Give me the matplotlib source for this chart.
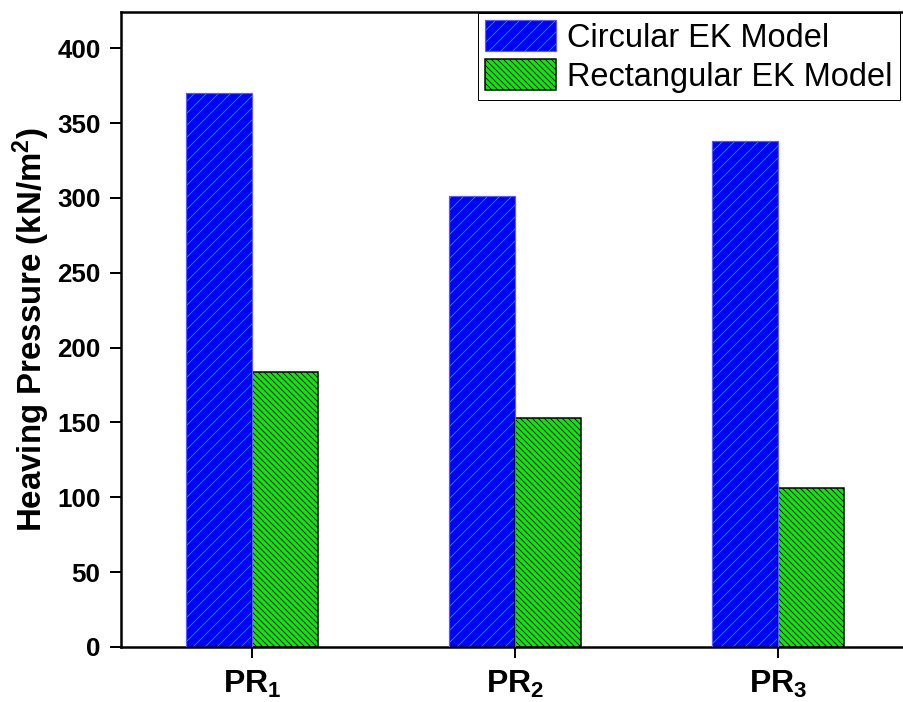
import matplotlib
matplotlib.use("Agg")
import matplotlib.pyplot as plt
import numpy as np
from matplotlib.patches import Patch
from matplotlib.legend_handler import HandlerTuple

plt.rcParams['font.family'] = ['Liberation Sans', 'DejaVu Sans']
plt.rcParams['mathtext.fontset'] = 'custom'
plt.rcParams['mathtext.rm'] = 'Liberation Sans'
plt.rcParams['mathtext.bf'] = 'Liberation Sans:bold'
plt.rcParams['mathtext.it'] = 'Liberation Sans:italic'
plt.rcParams['hatch.linewidth'] = 0.8

categories = [r'$\mathbf{PR}_\mathbf{1}$', r'$\mathbf{PR}_\mathbf{2}$', r'$\mathbf{PR}_\mathbf{3}$']
circular = [370, 301, 338]
rectangular = [184, 153, 106]
series_names = ['Circular EK Model', 'Rectangular EK Model']
yticks = [0, 50, 100, 150, 200, 250, 300, 350, 400]

DPI = 72
fig = plt.figure(figsize=(903 / DPI, 702 / DPI), dpi=DPI)
ax = fig.add_axes([120.5 / 903, 55 / 702, 789 / 903, 635.3 / 702])

x = np.arange(len(categories))
w = 0.25

blue = '#0000FF'
blue_hatch = '#00D000'
blue_edge = '#5A5AFF'
green = '#00F000'
hatch_c = '//'
hatch_r = '\\\\\\\\'

# Circular: blue fill with green hatching, thin blue outline
ax.bar(x - w / 2, circular, w, color=blue, edgecolor=blue_hatch, hatch=hatch_c, linewidth=0, zorder=2)
ax.bar(x - w / 2, circular, w, fill=False, edgecolor=blue_edge, linewidth=1.2, zorder=3)
# Rectangular: green fill with dense black hatching, black outline
ax.bar(x + w / 2, rectangular, w, color=green, edgecolor='black', hatch=hatch_r, linewidth=1.5, zorder=2)

ax.set_xlim(-0.5, 2.5)
ax.set_ylim(0, 424.4)
ax.set_xticks(x)
ax.set_xticklabels(categories, fontsize=32)
ax.set_yticks(yticks)
ax.set_yticklabels([str(t) for t in yticks], fontsize=26, fontweight='bold')
ax.tick_params(axis='both', direction='out', length=11, width=2)
ax.tick_params(axis='y', pad=9)
ax.tick_params(axis='x', pad=11)

for side in ['left', 'bottom', 'top', 'right']:
    ax.spines[side].set_linewidth(2.5)

ax.set_ylabel(r'Heaving Pressure (kN/m$\mathbf{^2}$)', fontsize=33, fontweight='bold', labelpad=5)

h1 = (Patch(facecolor=blue, edgecolor=blue_hatch, hatch=hatch_c, linewidth=0),
      Patch(fill=False, edgecolor=blue_edge, linewidth=1.2))
h2 = Patch(facecolor=green, edgecolor='black', hatch=hatch_r, linewidth=1.5)
leg = fig.legend([h1, h2], series_names, loc='upper right',
                 bbox_to_anchor=(900 / 903, 1 - 13 / 702),
                 handler_map={tuple: HandlerTuple(ndivide=1, pad=0)},
                 fontsize=32.5, frameon=True, fancybox=False, framealpha=1,
                 edgecolor='black', handlelength=2.2, handleheight=1.08,
                 labelspacing=0.18, borderpad=0.22, handletextpad=0.34,
                 borderaxespad=0)
leg.get_frame().set_linewidth(1.0)

fig.savefig('out.png', dpi=DPI)
